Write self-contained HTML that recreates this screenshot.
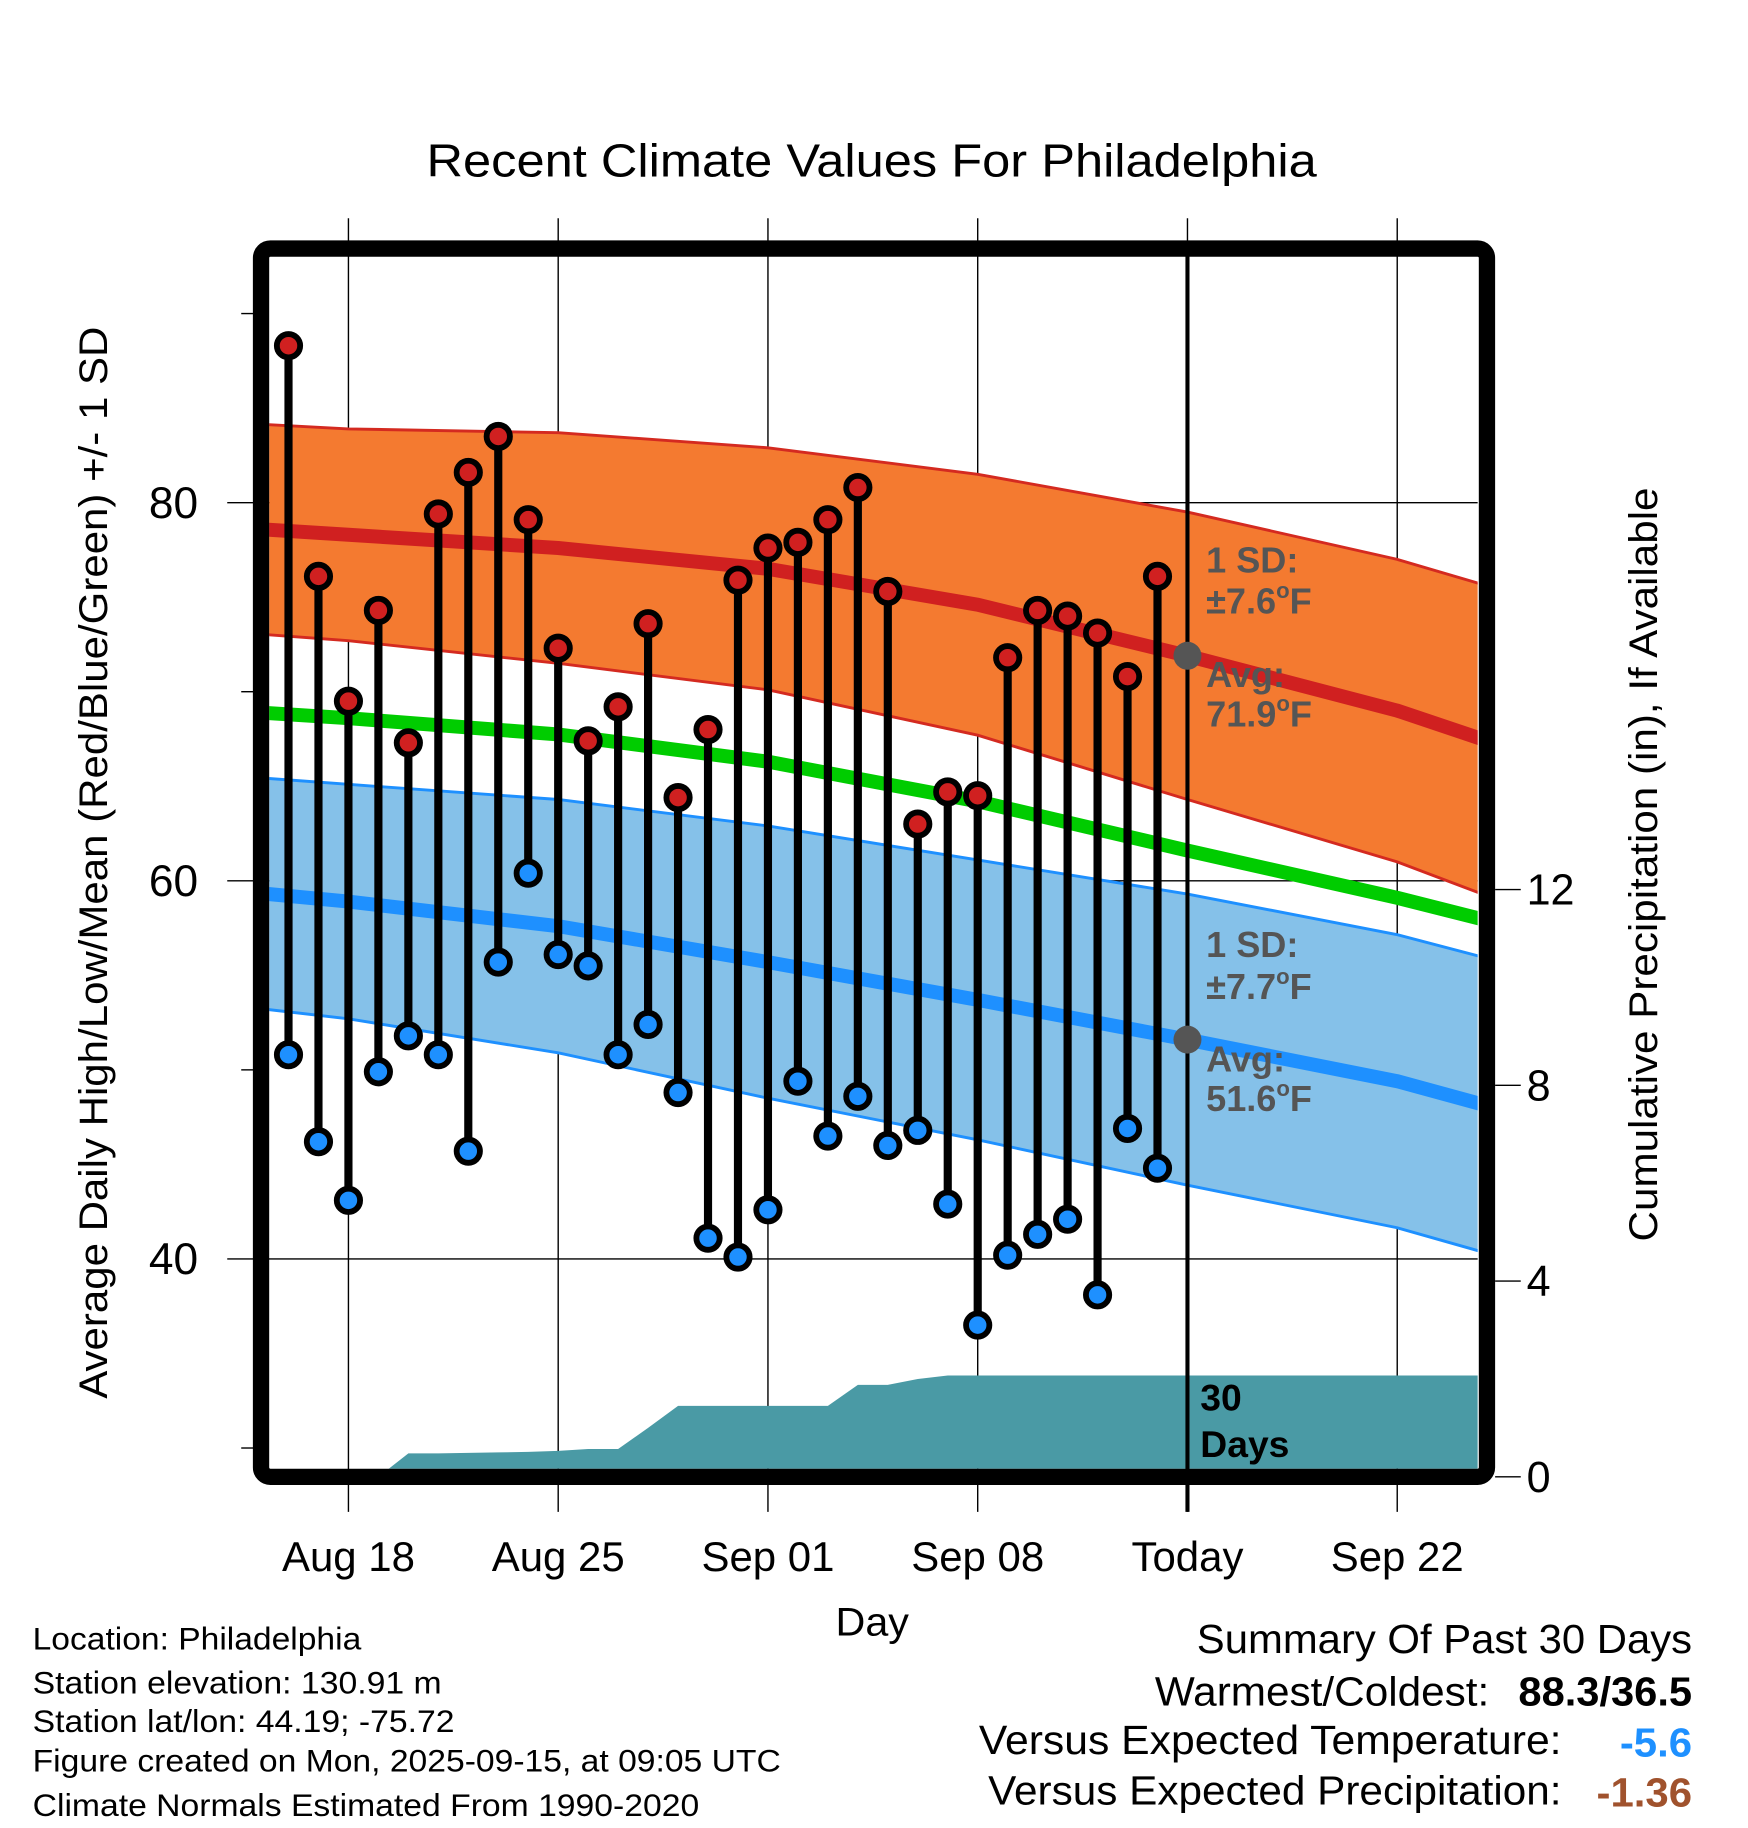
<!DOCTYPE html>
<html><head><meta charset="utf-8"><style>
html,body{margin:0;padding:0;background:#fff}
svg{display:block}
text{font-family:"Liberation Sans",Arial,sans-serif}
</style></head><body>
<svg id="chart" xmlns="http://www.w3.org/2000/svg" width="1748" height="1828" viewBox="0 0 1500 1568">
<defs><clipPath id="plotclip"><rect x="231" y="219" width="1037" height="1041"/></clipPath></defs>
<rect width="1500" height="1568" fill="#fff"/>
<text x="366" y="151" font-size="40" textLength="764" lengthAdjust="spacingAndGlyphs">Recent Climate Values For Philadelphia</text>
<g id="grid"></g>
<g id="plot" clip-path="url(#plotclip)"></g>
<g id="marks"></g>
<rect x="224" y="213" width="1052" height="1054" rx="8" fill="none" stroke="#000" stroke-width="14"/>
<g id="axes"></g>
<text transform="translate(92,1200) rotate(-90)" font-size="34" textLength="920" lengthAdjust="spacingAndGlyphs">Average Daily High/Low/Mean (Red/Blue/Green) +/- 1 SD</text>
<text transform="translate(1422,1065) rotate(-90)" font-size="34" textLength="647" lengthAdjust="spacingAndGlyphs">Cumulative Precipitation (in), If Available</text>
<text x="717" y="1403" font-size="34" textLength="63" lengthAdjust="spacingAndGlyphs">Day</text>
<g font-size="27" lengthAdjust="spacingAndGlyphs">
<text x="28" y="1415" textLength="282" lengthAdjust="spacingAndGlyphs">Location: Philadelphia</text>
<text x="28" y="1453" textLength="351" lengthAdjust="spacingAndGlyphs">Station elevation: 130.91 m</text>
<text x="28" y="1486" textLength="362" lengthAdjust="spacingAndGlyphs">Station lat/lon: 44.19; -75.72</text>
<text x="28" y="1520" textLength="642" lengthAdjust="spacingAndGlyphs">Figure created on Mon, 2025-09-15, at 09:05 UTC</text>
<text x="28" y="1558" textLength="572" lengthAdjust="spacingAndGlyphs">Climate Normals Estimated From 1990-2020</text>
</g>
<g font-size="35">
<text x="1027" y="1418" textLength="425" lengthAdjust="spacingAndGlyphs">Summary Of Past 30 Days</text>
<text x="991" y="1463" textLength="287" lengthAdjust="spacingAndGlyphs">Warmest/Coldest:</text>
<text x="1303" y="1463" font-weight="bold" textLength="149" lengthAdjust="spacingAndGlyphs">88.3/36.5</text>
<text x="840" y="1505" textLength="500" lengthAdjust="spacingAndGlyphs">Versus Expected Temperature:</text>
<text x="1390" y="1507" font-weight="bold" fill="#1e90ff" textLength="62" lengthAdjust="spacingAndGlyphs">-5.6</text>
<text x="848" y="1548" textLength="492" lengthAdjust="spacingAndGlyphs">Versus Expected Precipitation:</text>
<text x="1370" y="1550" font-weight="bold" fill="#a0522d" textLength="82" lengthAdjust="spacingAndGlyphs">-1.36</text>
</g>
</svg>
<script>
// day index: 0 = Aug 18
const normDays = [-3, 0, 7, 14, 21, 28, 35, 38];
const highMean = [78.6, 78.3, 77.6, 76.5, 74.6, 71.9, 69.0, 67.4];
const highSD   = [5.55, 5.6, 6.1, 6.4, 6.9, 7.6, 8.0, 8.2];
const avgMean  = [68.9, 68.6, 67.74, 66.3, 64.2, 61.6, 59.1, 57.9];
const lowMean  = [59.35, 58.9, 57.6, 55.7, 53.7, 51.6, 49.4, 48.1];
const lowSD    = [6.1, 6.2, 6.7, 7.2, 7.4, 7.7, 7.75, 7.8];
const obsStart = -2; // Aug 16
const highs = [88.3,76.1,69.5,74.3,67.3,79.4,81.6,83.5,79.1,72.3,67.4,69.2,73.6,64.4,68.0,75.9,77.6,77.9,79.1,80.8,75.3,63.0,64.7,64.5,71.8,74.3,74.0,73.1,70.8,76.1];
const lows  = [50.8,46.2,43.1,49.9,51.8,50.8,45.7,55.7,60.4,56.1,55.5,50.8,52.4,48.8,41.1,40.1,42.6,49.4,46.5,48.6,46.0,46.8,42.9,36.5,40.2,41.3,42.1,38.1,46.9,44.8];
const precip = [0,0,0,0,0.48,0.48,0.49,0.50,0.51,0.53,0.57,0.57,1.0,1.45,1.45,1.45,1.45,1.45,1.45,1.88,1.88,2.0,2.07,2.07,2.07,2.07,2.07,2.07,2.07,2.07];
const xTickDays = [0, 7, 14, 21, 28, 35];
const xTickLabels = ["Aug 18","Aug 25","Sep 01","Sep 08","Today","Sep 22"];
const yTicks = [40, 60, 80];
const yMinor = [30, 50, 70, 90];
const y2Ticks = [0, 4, 8, 12];
const todayDay = 28;
const todayHigh = 71.9, todayLow = 51.6;

const X = d => 299 + d * 25.714;
const Y = t => 431 - (t - 80) * 16.225;
const Y2 = p => 1267 - p * 42;
const NS = "http://www.w3.org/2000/svg";
function mk(tag, attrs, parent) {
  const e = document.createElementNS(NS, tag);
  for (const k in attrs) e.setAttribute(k, attrs[k]);
  parent.appendChild(e); return e;
}
const grid = document.getElementById('grid'), plot = document.getElementById('plot'),
      marks = document.getElementById('marks'), axes = document.getElementById('axes');

xTickDays.forEach((d, i) => {
  const l = mk('line', {x1: X(d), x2: X(d), y1: 187, y2: 1297, stroke: '#000', 'stroke-width': 1.2}, grid);
  
  
  const t = mk('text', {x: X(d), y: 1348, 'font-size': 36, 'text-anchor': 'middle'}, axes);
  t.textContent = xTickLabels[i];
  
  
});
yTicks.forEach(v => {
  const l = mk('line', {x1: 195, x2: 1268, y1: Y(v), y2: Y(v), stroke: '#000', 'stroke-width': 1.2}, grid);
  
  
  const t = mk('text', {x: 170, y: Y(v) + 13, 'font-size': 38, 'text-anchor': 'end'}, axes);
  t.textContent = v;
  
  
});
yMinor.forEach(v => {
  const l = mk('line', {x1: 207, x2: 218, y1: Y(v), y2: Y(v), stroke: '#000', 'stroke-width': 1.2}, grid);
  
  
});
y2Ticks.forEach(v => {
  const l = mk('line', {x1: 1283, x2: 1305, y1: Y2(v), y2: Y2(v), stroke: '#000', 'stroke-width': 1.2}, axes);
  
  
  const t = mk('text', {x: 1310, y: Y2(v) + 13, 'font-size': 37}, axes);
  t.textContent = v;
  
  
});

function pts(vals, off, sign) {
  return normDays.map((d, i) => X(d) + ',' + Y(vals[i] + (off ? sign * off[i] : 0)));
}
function band(mean, sd, fill, stroke, name) {
  const up = pts(mean, sd, 1), lo = pts(mean, sd, -1).reverse();
  const p = mk('polygon', {points: up.concat(lo).join(' '), fill: fill}, plot);
  
  
  [1, -1].forEach(s => {
    const e = mk('polyline', {points: pts(mean, sd, s).join(' '), fill: 'none', stroke: stroke, 'stroke-width': 2.5}, plot);
    
    
  });
}
function meanLine(mean, color, name) {
  const e = mk('polyline', {points: pts(mean).join(' '), fill: 'none', stroke: color, 'stroke-width': 12}, plot);
  
  
}
band(highMean, highSD, '#f47a30', '#d42a20', 'high-sd-band');
band(lowMean, lowSD, '#85c1e9', '#1e90ff', 'low-sd-band');
meanLine(highMean, '#d02020', 'high-normal-line');
meanLine(avgMean, '#00cc00', 'mean-normal-line');
meanLine(lowMean, '#1e90ff', 'low-normal-line');

let ppts = [X(obsStart) + ',' + Y2(0)];
precip.forEach((p, i) => ppts.push(X(obsStart + i) + ',' + Y2(p)));
ppts.push(X(40) + ',' + Y2(precip[precip.length - 1]));
ppts.push(X(40) + ',' + Y2(0));
ppts.unshift(X(-4) + ',' + Y2(0));
const pa = mk('polygon', {points: ppts.join(' '), fill: '#4a9aa5'}, plot);



const tl = mk('line', {x1: X(todayDay), x2: X(todayDay), y1: 219, y2: 1297, stroke: '#000', 'stroke-width': 3.5}, marks);



highs.forEach((h, i) => {
  const x = X(obsStart + i);
  const s = mk('line', {x1: x, x2: x, y1: Y(h), y2: Y(lows[i]), stroke: '#000', 'stroke-width': 7}, marks);
  
  
});
highs.forEach((h, i) => {
  const x = X(obsStart + i);
  const c1 = mk('circle', {cx: x, cy: Y(h), r: 10, fill: '#d02020', stroke: '#000', 'stroke-width': 5}, marks);
  
  
  const c2 = mk('circle', {cx: x, cy: Y(lows[i]), r: 10, fill: '#1e90ff', stroke: '#000', 'stroke-width': 5}, marks);
  
  
});
[todayHigh, todayLow].forEach(v => {
  const c = mk('circle', {cx: X(todayDay), cy: Y(v), r: 12, fill: '#555'}, marks);
  
  
});

function ann(txt, y, name) {
  const t = mk('text', {x: X(todayDay) + 16, y: y, 'font-size': 31, 'font-weight': 'bold', fill: '#555'}, marks);
  t.innerHTML = txt;
  
  
}
const deg = '<tspan dy="-13" font-size="19">o</tspan><tspan dy="13">F</tspan>';
ann('1 SD:', 491, 'high-sd-label');
ann('±7.6' + deg, 526, 'high-sd-value');
ann('Avg:', 589, 'high-avg-label');
ann('71.9' + deg, 623, 'high-avg-value');
ann('1 SD:', 821, 'low-sd-label');
ann('±7.7' + deg, 857, 'low-sd-value');
ann('Avg:', 919, 'low-avg-label');
ann('51.6' + deg, 953, 'low-avg-value');
const d1 = mk('text', {x: X(todayDay) + 11, y: 1210, 'font-size': 32, 'font-weight': 'bold'}, marks);
d1.textContent = '30';


const d2 = mk('text', {x: X(todayDay) + 11, y: 1250, 'font-size': 32, 'font-weight': 'bold'}, marks);
d2.textContent = 'Days';


</script>
</body></html>
